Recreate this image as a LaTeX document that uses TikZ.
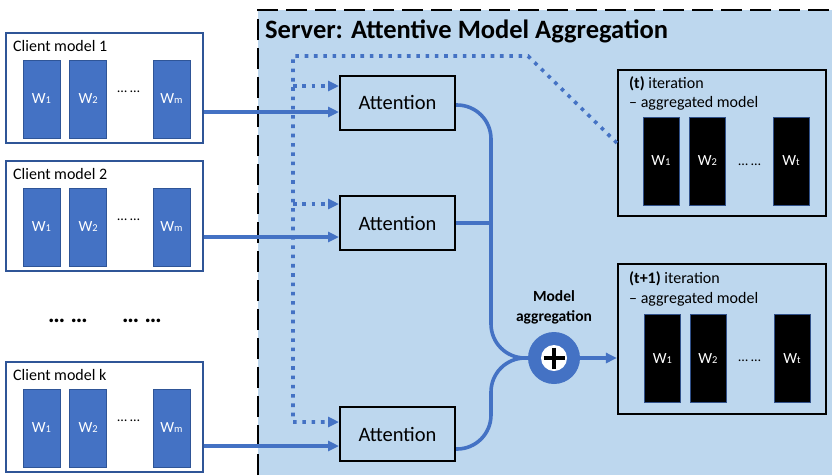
\documentclass[tikz,border=0pt]{standalone}
\usepackage{fontspec}
\setmainfont{Carlito}
\usetikzlibrary{arrows.meta,positioning,calc}
\definecolor{wblue}{HTML}{4472C4}
\definecolor{cborder}{HTML}{2F5597}
\definecolor{srvfill}{HTML}{BDD7EE}
\newcommand{\fs}[1]{\fontsize{#1}{#1}\selectfont}
\newcommand{\wsub}[1]{W{\fs{10.5}#1}}

\begin{document}
\begin{tikzpicture}[x=1pt,y=-1pt,
  client/.style={draw=cborder,line width=2.2pt,fill=white,minimum width=197pt,minimum height=110pt,inner sep=0pt},
  wblock/.style={fill=wblue,draw=cborder,line width=0.7pt,minimum width=37pt,minimum height=78pt,inner sep=0pt,text=white,font=\fs{15.5}},
  bblock/.style={fill=black,draw=wblue!70!black,line width=0.7pt,minimum width=36pt,minimum height=88pt,inner sep=0pt,text=white,font=\fs{15.5}},
  attn/.style={draw,line width=2pt,minimum width=115pt,minimum height=54pt,inner sep=0pt,font=\fs{20.5}},
  aggbox/.style={draw,line width=2.2pt,minimum width=208pt,inner sep=0pt},
  aggtext/.style={anchor=west,font=\fs{16},inner sep=0pt},
  flow/.style={draw=wblue,line width=3.6pt},
  dotflow/.style={draw=wblue,line width=3.6pt,dash pattern=on 3.6pt off 5.7pt},
  tip/.style={-{Triangle[length=11pt,width=10pt]}},
]
\useasboundingbox (0,0) rectangle (832,475);

\fill[srvfill] (258,10) rectangle (832,475);
\draw[line width=2.6pt,dash pattern=on 21pt off 8pt] (258,475) -- (258,10) -- (832,10);
\node[anchor=west,font=\bfseries\fs{26.5},inner sep=0pt] (title) at (265,31) {Server: Attentive Model Aggregation};

\foreach \n/\t/\l in {c1/33/1,c2/161/2,ck/362/k}{
  \node[client] (\n) at (104.5,\t+55) {};
  \node[anchor=west,font=\fs{16},inner sep=0pt] (\n-lab) at (13,\t+13) {Client model \l};
  \node[wblock] (\n-w1) at (41.5,\t+66) {\wsub{1}};
  \node[wblock,right=9pt of \n-w1] (\n-w2) {\wsub{2}};
  \node[wblock] (\n-wm) at (171.5,\t+66) {\wsub{m}};
  \node[font=\fs{14}] (\n-dots) at (128.5,\t+59) {\dots\ \dots};
}
\node[font=\bfseries\fs{24}] (more1) at (68,321) {\dots\ \dots};
\node[font=\bfseries\fs{24}] (more2) at (142,321) {\dots\ \dots};

\node[attn] (a1) at (397.5,102.5) {Attention};
\node[attn] (a2) at (397.5,223) {Attention};
\node[attn] (a3) at (397.5,434) {Attention};

\node[aggbox,minimum height=146pt] (tbox) at (722,143) {};
\node[aggtext] (tlab1) at (629,84) {\textbf{(t)} iteration};
\node[aggtext] (tlab2) at (629,103) {– aggregated model};
\node[bblock] (t-w1) at (661,161) {\wsub{1}};
\node[bblock] (t-w2) at (707.5,161) {\wsub{2}};
\node[bblock] (t-wt) at (791,161) {\wsub{t}};
\node[font=\fs{14}] (t-dots) at (749.5,165) {\dots\ \dots};

\node[aggbox,minimum height=150pt] (t1box) at (722,339) {};
\node[aggtext] (t1lab1) at (629,279) {\textbf{(t+1)} iteration};
\node[aggtext] (t1lab2) at (629,299) {– aggregated model};
\node[bblock] (t1-w1) at (662.5,358.5) {\wsub{1}};
\node[bblock] (t1-w2) at (708,358.5) {\wsub{2}};
\node[bblock] (t1-wt) at (792,358.5) {\wsub{t}};
\node[font=\fs{14}] (t1-dots) at (749.5,361) {\dots\ \dots};

\node[circle,fill=wblue,minimum size=52pt,inner sep=0pt] (plus) at (554,358) {};
\node[circle,fill=white,minimum size=26pt,inner sep=0pt] (plus-in) at (plus) {};
\draw[line width=3.2pt] ($(plus-in)+(-10.5,0)$) -- ($(plus-in)+(10.5,0)$)
  ($(plus-in)+(0,-10.5)$) -- ($(plus-in)+(0,10.5)$);
\node[above=4pt of plus,align=center,font=\bfseries\fontsize{15.5}{20}\selectfont] (agglab) {Model\\aggregation};

\coordinate (bus) at (491,358);

\draw[flow,tip] (c1.east |- 0,112) -- (a1.west |- 0,112);
\draw[flow,tip] (c2.east |- 0,237) -- (a2.west |- 0,237);
\draw[flow,tip] (ck.east |- 0,446) -- (a3.west |- 0,446);

\draw[dotflow,tip] (tbox.west) -- (528,56) -- (293,56) |- (a3.west |- 0,422);
\draw[dotflow,tip] (293,86) -- (a1.west |- 0,86);
\draw[dotflow,tip] (293,204) -- (a2.west |- 0,204);

\draw[flow,rounded corners=34pt] (a1.east |- 0,105) -- (bus |- 0,105) -- (bus) -- (plus.west);
\draw[flow] (a2.east) -- (a2.east -| bus);
\draw[flow,rounded corners=34pt] (a3.east |- 0,449) -- (bus |- 0,449) -- (bus) -- (plus.west);
\draw[flow,tip] (plus.east) -- (plus.east -| t1box.west);
\end{tikzpicture}
\end{document}
